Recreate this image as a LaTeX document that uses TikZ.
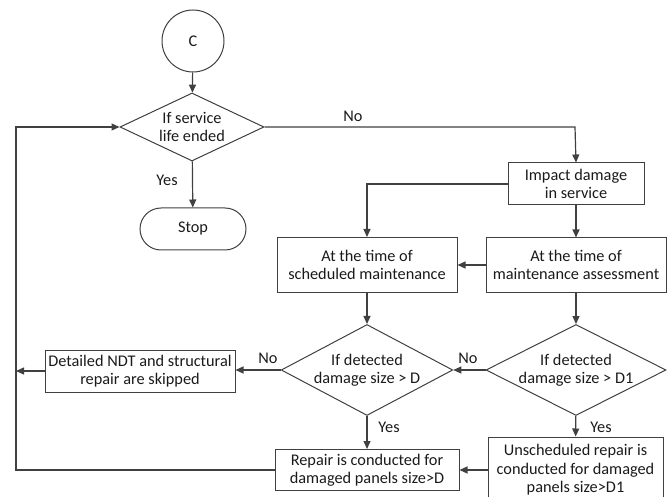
\documentclass[tikz,border=0pt]{standalone}
\usepackage{fontspec}
\setmainfont{Carlito}
\usetikzlibrary{shapes.geometric,shapes.misc,arrows.meta}
\definecolor{linec}{HTML}{404040}
\definecolor{txtc}{HTML}{1A1A1A}
\tikzset{
  base/.style={draw=linec, line width=1pt, text=txtc, align=center,
    font=\fontsize{16.3}{18.5}\selectfont, inner sep=0pt},
  procbox/.style={base, rectangle},
  decision/.style={base, diamond, aspect=2},
  terminal/.style={base, rounded rectangle},
  connector/.style={base, circle},
  flow/.style={draw=linec, line width=1.2pt, line join=miter, -{Triangle[length=8pt,width=7pt]}},
  lbl/.style={text=txtc, font=\fontsize{16.3}{18.5}\selectfont, inner sep=0pt}
}
\begin{document}
\begin{tikzpicture}[x=1pt,y=-1pt]
\useasboundingbox (0,0) rectangle (672,497);
\clip (0,0) rectangle (672,497);

% nodes
\node[connector, minimum size=62pt] (c) at (193,41) {C};
\node[decision, minimum width=144pt, minimum height=68pt] (life) at (192,127) {If service\\life ended};
\node[terminal, minimum width=106pt, minimum height=42pt] (stop) at (193,229) {Stop};
\node[procbox, minimum width=136pt, minimum height=42pt] (impact) at (576,184) {Impact damage\\in service};
\node[procbox, minimum width=180pt, minimum height=54pt] (assess) at (576,265) {At the time of\\maintenance assessment};
\node[procbox, minimum width=180pt, minimum height=55pt] (sched) at (367,265) {At the time of\\scheduled maintenance};
\node[decision, minimum width=158pt, minimum height=91pt] (dd) at (367,370) {If detected\\damage size > D};
\node[decision, minimum width=180pt, minimum height=91pt] (dd1) at (576,370) {If detected\\damage size > D1};
\node[procbox, minimum width=190pt, minimum height=42pt] (ndt) at (140,371) {Detailed NDT and structural\\repair are skipped};
\node[procbox, minimum width=184pt, minimum height=41pt] (repair) at (367,470) {Repair is conducted for\\damaged panels size>D};
\node[procbox, minimum width=175pt, minimum height=66pt] (unsch) at (575.5,470) {Unscheduled repair is\\conducted for damaged\\panels size>D1};

\coordinate (rtop) at (575,127);
\coordinate (ltop) at (16,127);
\coordinate (lbot) at (16,470);
\coordinate (lmid) at (16,371);

% connectors
\draw[flow] (c) -- (life);
\draw[flow] (life.east) -- (rtop) -- (impact.north);
\draw[flow] (life) -- (stop);
\draw[flow] (impact.west) -| (sched.north);
\draw[flow] (impact) -- (assess);
\draw[flow] (assess) -- (sched);
\draw[flow] (sched) -- (dd);
\draw[flow] (assess) -- (dd1);
\draw[flow] (dd1.west) -- (dd.east);
\draw[flow] (dd.west) -- (ndt.east |- dd.west);
\draw[flow] (ndt.west) -- (lmid);
\draw[flow] (dd) -- (repair);
\draw[flow] (dd1) -- (unsch);
\draw[flow] (unsch.west) -- (repair.east);
\draw[flow] (repair.west) -- (lbot) -- (ltop) -- (life.west);

% branch labels
\node[lbl] (no1) at (353,116) {No};
\node[lbl] (yes1) at (167,180) {Yes};
\node[lbl] (no2) at (468,358) {No};
\node[lbl] (no3) at (268,358) {No};
\node[lbl] (yes2) at (389,427) {Yes};
\node[lbl] (yes3) at (601,427) {Yes};
\end{tikzpicture}
\end{document}
